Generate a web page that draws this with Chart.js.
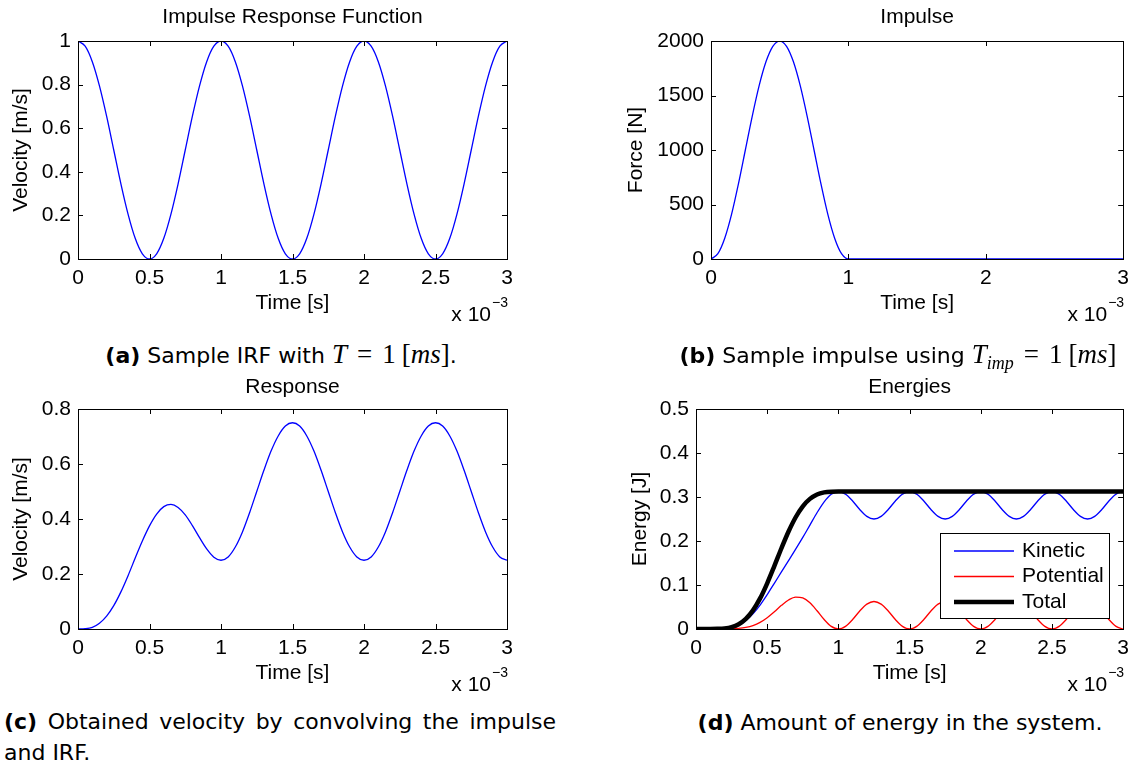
<!DOCTYPE html>
<html lang="en">
<head>
<meta charset="UTF-8">
<title>Impulse response</title>
<script src="https://cdn.jsdelivr.net/npm/chart.js@4.4.1/dist/chart.umd.min.js"></script>
<style>
  body { margin:0; background:#fff; width:1136px; height:767px; position:relative; overflow:hidden; }
  .panel { position:absolute; }
  .cap { position:absolute; font-family:'DejaVu Sans',sans-serif; font-size:22px; line-height:27px; color:#000; white-space:nowrap; }
  .ctr { transform:translateX(-50%); }
  .m { font-family:'Liberation Serif',serif; font-size:27px; }
  .m sub { font-size:18px; }
  .eq { margin:0 10px; }
  .th { margin-left:6px; }
</style>
</head>
<body>
<canvas id="irf" class="panel" width="560" height="330" style="left:0;top:0"></canvas>
<canvas id="imp" class="panel" width="566" height="330" style="left:570px;top:0"></canvas>
<canvas id="resp" class="panel" width="560" height="330" style="left:0;top:370px"></canvas>
<canvas id="energy" class="panel" width="566" height="330" style="left:570px;top:370px"></canvas>

<div class="cap ctr" style="left:281px;top:341px"><b>(a)</b> Sample IRF with <span class="m"><i>T</i><span class="eq">=</span>1<span class="th">[<i>ms</i>]</span></span>.</div>
<div class="cap ctr" style="left:898px;top:341px"><b>(b)</b> Sample impulse using <span class="m"><i>T<sub>imp</sub></i><span class="eq">=</span>1<span class="th">[<i>ms</i>]</span></span></div>
<div class="cap" style="left:4px;top:708px;width:552px;text-align:justify;text-align-last:justify"><b>(c)</b> Obtained velocity by convolving the impulse</div>
<div class="cap" style="left:4px;top:739px">and IRF.</div>
<div class="cap ctr" style="left:900px;top:709px"><b>(d)</b> Amount of energy in the system.</div>

<script>
// time axis in ms (shown with the x 10^-3 multiplier)
const timeMs = [0,0.05,0.1,0.15,0.2,0.25,0.3,0.35,0.4,0.45,0.5,0.55,0.6,0.65,0.7,0.75,0.8,0.85,0.9,0.95,
  1,1.05,1.1,1.15,1.2,1.25,1.3,1.35,1.4,1.45,1.5,1.55,1.6,1.65,1.7,1.75,1.8,1.85,1.9,1.95,
  2,2.05,2.1,2.15,2.2,2.25,2.3,2.35,2.4,2.45,2.5,2.55,2.6,2.65,2.7,2.75,2.8,2.85,2.9,2.95,3];

const irfVelocity = [1,0.976,0.905,0.794,0.655,0.5,0.345,0.206,0.095,0.024,
  0,0.024,0.095,0.206,0.345,0.5,0.655,0.794,0.905,0.976,
  1,0.976,0.905,0.794,0.655,0.5,0.345,0.206,0.095,0.024,
  0,0.024,0.095,0.206,0.345,0.5,0.655,0.794,0.905,0.976,
  1,0.976,0.905,0.794,0.655,0.5,0.345,0.206,0.095,0.024,
  0,0.024,0.095,0.206,0.345,0.5,0.655,0.794,0.905,0.976,1];

const impulseForce = [0,49,191,412,691,1000,1309,1588,1809,1951,
  2000,1951,1809,1588,1309,1000,691,412,191,49,
  0,0,0,0,0,0,0,0,0,0,0,0,0,0,0,0,0,0,0,0,
  0,0,0,0,0,0,0,0,0,0,0,0,0,0,0,0,0,0,0,0,0];

const responseVelocity = [0,0.001,0.006,0.021,0.047,0.085,0.135,0.194,0.258,0.320,
  0.375,0.418,0.445,0.453,0.442,0.415,0.376,0.332,0.291,0.261,
  0.25,0.262,0.298,0.353,0.423,0.5,0.577,0.647,0.702,0.738,
  0.75,0.738,0.702,0.647,0.577,0.5,0.423,0.353,0.298,0.262,
  0.25,0.262,0.298,0.353,0.423,0.5,0.577,0.647,0.702,0.738,
  0.75,0.738,0.702,0.647,0.577,0.5,0.423,0.353,0.298,0.262,0.25];

const kineticEnergy = [0,0,0,0.0002,0.0011,0.0036,0.0092,0.0192,0.0344,0.0544,
  0.0781,0.1038,0.1298,0.1556,0.1815,0.2082,0.2362,0.2642,0.289,0.3063,
  0.3125,0.3065,0.2909,0.2716,0.256,0.25,0.256,0.2716,0.2909,0.3065,
  0.3125,0.3065,0.2909,0.2716,0.256,0.25,0.256,0.2716,0.2909,0.3065,
  0.3125,0.3065,0.2909,0.2716,0.256,0.25,0.256,0.2716,0.2909,0.3065,
  0.3125,0.3065,0.2909,0.2716,0.256,0.25,0.256,0.2716,0.2909,0.3065,0.3125];

const potentialEnergy = [0,0,0,0.0001,0.0002,0.0006,0.0015,0.0037,0.0079,0.0151,
  0.0257,0.0392,0.0537,0.066,0.0726,0.0706,0.0595,0.0415,0.0215,0.0059,
  0,0.006,0.0216,0.0409,0.0565,0.0625,0.0565,0.0409,0.0216,0.006,
  0,0.006,0.0216,0.0409,0.0565,0.0625,0.0565,0.0409,0.0216,0.006,
  0,0.006,0.0216,0.0409,0.0565,0.0625,0.0565,0.0409,0.0216,0.006,
  0,0.006,0.0216,0.0409,0.0565,0.0625,0.0565,0.0409,0.0216,0.006,0];

const totalEnergy = [0,0,0,0.0003,0.0013,0.0042,0.0108,0.0229,0.0423,0.0695,
  0.1039,0.143,0.1835,0.2216,0.254,0.2789,0.2957,0.3057,0.3105,0.3122,
  0.3125,0.3125,0.3125,0.3125,0.3125,0.3125,0.3125,0.3125,0.3125,0.3125,
  0.3125,0.3125,0.3125,0.3125,0.3125,0.3125,0.3125,0.3125,0.3125,0.3125,
  0.3125,0.3125,0.3125,0.3125,0.3125,0.3125,0.3125,0.3125,0.3125,0.3125,
  0.3125,0.3125,0.3125,0.3125,0.3125,0.3125,0.3125,0.3125,0.3125,0.3125,0.3125];

const xTicksFine = [0,0.5,1,1.5,2,2.5,3];
const xTicksCoarse = [0,1,2,3];
const yTicksIrf = [0,0.2,0.4,0.6,0.8,1];
const yTicksForce = [0,500,1000,1500,2000];
const yTicksResp = [0,0.2,0.4,0.6,0.8];
const yTicksEnergy = [0,0.1,0.2,0.3,0.4,0.5];

const FONT = '"Liberation Sans", Arial, sans-serif';
Chart.defaults.font.family = FONT;
Chart.defaults.font.size = 21;
Chart.defaults.color = '#000';

function pts(ys) { return timeMs.map((t, i) => ({x: t, y: ys[i]})); }

// box + inward ticks + title + "x 10^-3", matlab style
const matlabAxes = {
  id: 'matlabAxes',
  afterDatasetsDraw(chart, args, opts) {
    const {ctx, chartArea: a, scales} = chart;
    const len = 5;
    ctx.save();
    ctx.strokeStyle = '#000';
    ctx.lineWidth = 1;
    ctx.beginPath();
    scales.x.ticks.forEach(t => {
      const px = Math.round(scales.x.getPixelForValue(t.value)) + 0.5;
      ctx.moveTo(px, a.bottom); ctx.lineTo(px, a.bottom - len);
      ctx.moveTo(px, a.top); ctx.lineTo(px, a.top + len);
    });
    scales.y.ticks.forEach(t => {
      const py = Math.round(scales.y.getPixelForValue(t.value)) + 0.5;
      ctx.moveTo(a.left, py); ctx.lineTo(a.left + len, py);
      ctx.moveTo(a.right, py); ctx.lineTo(a.right - len, py);
    });
    ctx.stroke();
    ctx.strokeRect(Math.round(a.left) + 0.5, Math.round(a.top) + 0.5,
      Math.round(a.right - a.left), Math.round(a.bottom - a.top));

    ctx.fillStyle = '#000';
    ctx.textBaseline = 'middle';
    ctx.textAlign = 'center';
    ctx.font = '21px ' + FONT;
    ctx.fillText(opts.title || '', (a.left + a.right) / 2, 17);

    ctx.textAlign = 'right';
    ctx.font = '14px ' + FONT;
    ctx.fillText('\u22123', a.right + 1, a.bottom + 44);
    const w = ctx.measureText('\u22123').width;
    ctx.font = '21px ' + FONT;
    ctx.fillText('x 10', a.right - w, a.bottom + 56);
    ctx.restore();
  }
};
Chart.register(matlabAxes);

const energyLegend = {
  id: 'energyLegend',
  afterDraw(chart) {
    const {ctx, chartArea: a} = chart;
    const w = 169, h = 85;
    const x0 = Math.round(a.right - 14 - w), y0 = Math.round(a.bottom - 11 - h);
    ctx.save();
    ctx.fillStyle = '#fff';
    ctx.fillRect(x0, y0, w, h);
    ctx.strokeStyle = '#000';
    ctx.lineWidth = 1;
    ctx.strokeRect(x0 + 0.5, y0 + 0.5, w, h);
    ctx.font = '21px ' + FONT;
    ctx.textBaseline = 'middle';
    ctx.textAlign = 'left';
    ctx.fillStyle = '#000';
    chart.data.datasets.forEach((ds, i) => {
      const y = y0 + 18 + i * 25.5;
      ctx.strokeStyle = ds.borderColor;
      ctx.lineWidth = ds.borderWidth;
      ctx.beginPath();
      ctx.moveTo(x0 + 14, y); ctx.lineTo(x0 + 74, y);
      ctx.stroke();
      ctx.fillText(ds.label, x0 + 82, y);
    });
    ctx.restore();
  }
};

function line(label, ys, color, width, order) {
  return {label: label, data: pts(ys), borderColor: color, borderWidth: width || 1.3,
    pointRadius: 0, fill: false, cubicInterpolationMode: 'monotone', order: order || 0};
}

function panel(id, p) {
  const cv = document.getElementById(id);
  const W = cv.width, H = cv.height;
  new Chart(cv, {
    type: 'line',
    data: {datasets: p.datasets},
    options: {
      responsive: false,
      animation: false,
      devicePixelRatio: 1,
      layout: {padding: {left: 0, top: p.area.top, right: W - p.area.right, bottom: 0}},
      plugins: {
        legend: {display: false},
        tooltip: {enabled: false},
        title: {display: false},
        matlabAxes: {title: p.title}
      },
      scales: {
        x: {
          type: 'linear', min: 0, max: 3,
          afterBuildTicks: s => { s.ticks = p.xTicks.map(v => ({value: v})); },
          afterFit: s => { s.height = H - p.area.bottom; },
          grid: {display: false, drawTicks: false},
          border: {display: false},
          ticks: {padding: 7, maxRotation: 0, autoSkip: false, callback: v => String(v)},
          title: {display: true, text: 'Time [s]', padding: {top: 0, bottom: 14}}
        },
        y: {
          min: p.yTicks[0], max: p.yTicks[p.yTicks.length - 1],
          afterBuildTicks: s => { s.ticks = p.yTicks.map(v => ({value: v})); },
          afterFit: s => { s.width = p.area.left; },
          grid: {display: false, drawTicks: false},
          border: {display: false},
          ticks: {padding: 7, autoSkip: false, callback: v => String(v)},
          title: {display: true, text: p.yLabel, padding: {top: p.yTitleX - 12.6, bottom: 0}}
        }
      }
    },
    plugins: p.plugins || []
  });
}

panel('irf', {
  title: 'Impulse Response Function', yLabel: 'Velocity [m/s]',
  area: {left: 78, top: 41, right: 507, bottom: 259}, yTitleX: 21,
  xTicks: xTicksFine, yTicks: yTicksIrf,
  datasets: [line('IRF', irfVelocity, '#0000ff')]
});

panel('imp', {
  title: 'Impulse', yLabel: 'Force [N]',
  area: {left: 141, top: 41, right: 554, bottom: 259}, yTitleX: 66,
  xTicks: xTicksCoarse, yTicks: yTicksForce,
  datasets: [line('Impulse', impulseForce, '#0000ff')]
});

panel('resp', {
  title: 'Response', yLabel: 'Velocity [m/s]',
  area: {left: 78, top: 39, right: 507, bottom: 259}, yTitleX: 21,
  xTicks: xTicksFine, yTicks: yTicksResp,
  datasets: [line('Response', responseVelocity, '#0000ff')]
});

panel('energy', {
  title: 'Energies', yLabel: 'Energy [J]',
  area: {left: 126, top: 39, right: 554, bottom: 259}, yTitleX: 70,
  xTicks: xTicksFine, yTicks: yTicksEnergy,
  datasets: [
    line('Kinetic', kineticEnergy, '#0000ff', 1.3, 1),
    line('Potential', potentialEnergy, '#ff0000', 1.3, 2),
    line('Total', totalEnergy, '#000000', 4.5, 0)
  ],
  plugins: [energyLegend]
});
</script>
</body>
</html>
